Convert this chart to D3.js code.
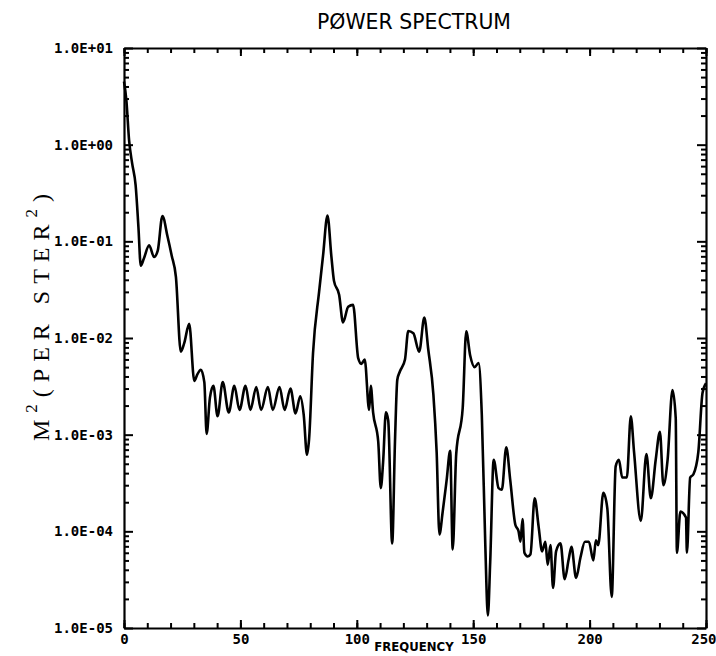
<!DOCTYPE html>
<html>
<head>
<meta charset="utf-8">
<script src="https://cdn.jsdelivr.net/npm/d3@7"></script>
<style>
  html, body { margin: 0; padding: 0; background: #fff; }
  svg { display: block; }
</style>
</head>
<body>
<svg id="chart" width="716" height="656"></svg>
<script>
// Power spectrum samples: frequency and M^2 per steradian^2
const frequency = [
  0, 1, 2.2, 3.5, 5, 6.2, 7.2, 8.5, 10.8, 12.9, 14.5, 16.5, 18.7, 20.5, 22.3, 24.4, 25.9, 28,
  30.2, 31.5, 33, 34.5, 35.5, 36.9, 38.4, 40.2, 42.4, 45, 47.4, 49.6, 52.2, 54.3, 56.8, 58.9,
  61.8, 63.9, 66.8, 69, 71.5, 73.7, 75.7, 77.2, 78.6, 79.5, 81.2, 83.8, 85.5, 87.4, 89.1, 90.2,
  92.4, 94.1, 96.3, 98.4, 100.6, 102, 103.4, 105.3, 106, 107, 109.2, 110.3, 111.3, 112.5, 113.5,
  115.2, 116.4, 117.4, 118.5, 120.7, 122.1, 124.3, 126.8, 129, 130.7, 132.9, 134.3, 135.5, 136.9,
  138.6, 140.1, 141.2, 142.7, 145.5, 147, 148.7, 150.6, 152.3, 153.7, 155.2, 156.3, 157.3, 158.8,
  160.9, 162.3, 164.2, 165.9, 168.1, 169.5, 170.3, 171.2, 172, 173.4, 174.6, 176.4, 178.1, 179.6,
  181, 182, 183.2, 184.3, 185.6, 187.5, 189.3, 191, 192.2, 194.2, 196.1, 198, 199.7, 201.6, 202.7,
  203.7, 205.9, 207.6, 209.5, 211.2, 212.6, 214, 216, 217.7, 219.1, 222, 224.4, 226.3, 228.4,
  230.2, 231.7, 233.5, 235.6, 237, 237.5, 239, 241.4, 241.8, 243.2, 244.6, 246.7, 248.5, 250
];
const power = [
  4.5, 2.9, 1.1, 0.64, 0.38, 0.14, 0.056, 0.066, 0.091, 0.069, 0.08, 0.183, 0.112, 0.071, 0.043, 0.0072, 0.0089, 0.014,
  0.0036, 0.0042, 0.0047, 0.0035, 0.00102, 0.0024, 0.0032, 0.00155, 0.0035, 0.0017, 0.0032, 0.0018, 0.0032, 0.0018, 0.0031, 0.0018,
  0.0031, 0.0018, 0.0031, 0.0018, 0.003, 0.00166, 0.0025, 0.0016, 0.00062, 0.0009, 0.007, 0.030, 0.071, 0.185, 0.069, 0.039,
  0.028, 0.0145, 0.021, 0.022, 0.0062, 0.0054, 0.006, 0.0018, 0.0032, 0.0017, 0.00085, 0.00028, 0.00052, 0.0017, 0.0014,
  0.000075, 0.00085, 0.0037, 0.0045, 0.006, 0.0118, 0.0112, 0.0072, 0.0163, 0.0076, 0.0026, 0.00066, 0.000093, 0.00016,
  0.00034, 0.00068, 0.000065, 0.00063, 0.0019, 0.0117, 0.0066, 0.005, 0.0055, 0.0016, 0.000072, 0.0000135, 0.000048, 0.00055,
  0.00028, 0.00027, 0.00074, 0.00034, 0.000117, 0.0001, 0.000078, 0.000134, 0.00006, 0.000055, 0.000058, 0.00022, 0.000112, 0.000062,
  0.000078, 0.000045, 0.000072, 0.000026, 0.000062, 0.000075, 0.000032, 0.000051, 0.000069, 0.000033, 0.000054, 0.000078, 0.000078, 0.00005, 0.000081,
  0.000072, 0.00025, 0.000174, 0.000021, 0.00047, 0.00055, 0.00036, 0.00036, 0.00155, 0.00066, 0.000128, 0.00063, 0.00022, 0.00055,
  0.00107, 0.0003, 0.00055, 0.0029, 0.00148, 0.00006, 0.00016, 0.000139, 0.00006, 0.00036, 0.00039, 0.00066, 0.0027, 0.0034
];

// Axis ticks and labels
const xTicks = [0, 50, 100, 150, 200, 250];
const xMinorTicks = d3.range(0, 251, 10);
const yTicks = [1e1, 1e0, 1e-1, 1e-2, 1e-3, 1e-4, 1e-5];
const yTickLabels = ["1.0E+01", "1.0E+00", "1.0E-01", "1.0E-02", "1.0E-03", "1.0E-04", "1.0E-05"];

const titleText = "PØWER SPECTRUM";
const xTitle = "FREQUENCY";

const margin = { top: 48, right: 10, bottom: 28, left: 124 };
const W = 716, H = 656;
const innerW = W - margin.left - margin.right;
const innerH = H - margin.top - margin.bottom;

const svg = d3.select("#chart");
const g = svg.append("g").attr("transform", `translate(${margin.left},${margin.top})`);

const x = d3.scaleLinear().domain([0, 250]).range([0, innerW]);
const y = d3.scaleLog().domain([1e-5, 1e1]).range([innerH, 0]);

// minor log ticks 2..9 inside each decade
const yMinor = [];
for (let e = -5; e < 1; e++) for (let m = 2; m <= 9; m++) yMinor.push(m * Math.pow(10, e));

const tickFont = "'DejaVu Sans Mono', monospace";

// left axis: labelled decades, ticks pointing inward
g.append("g")
  .call(d3.axisLeft(y).tickValues(yTicks).tickSize(-9).tickSizeOuter(0).tickPadding(11)
    .tickFormat((d, i) => yTickLabels[i]));
g.append("g").call(d3.axisLeft(y).tickValues(yMinor).tickSize(-5).tickSizeOuter(0).tickFormat(""))
  .select(".domain").remove();

// right axis
g.append("g").attr("transform", `translate(${innerW},0)`)
  .call(d3.axisRight(y).tickValues(yTicks).tickSize(-9).tickSizeOuter(0).tickFormat(""));
g.append("g").attr("transform", `translate(${innerW},0)`)
  .call(d3.axisRight(y).tickValues(yMinor).tickSize(-5).tickSizeOuter(0).tickFormat(""))
  .select(".domain").remove();

// bottom axis
const bottom = g.append("g").attr("transform", `translate(0,${innerH})`)
  .call(d3.axisBottom(x).tickValues(xTicks).tickSize(-8).tickSizeOuter(0).tickPadding(6)
    .tickFormat(d3.format("d")));
g.append("g").attr("transform", `translate(0,${innerH})`)
  .call(d3.axisBottom(x).tickValues(xMinorTicks).tickSize(-5).tickSizeOuter(0).tickFormat(""))
  .select(".domain").remove();
// keep the last label inside the page
bottom.selectAll(".tick text").filter(d => d === 250).attr("text-anchor", "end").attr("dx", 10);

// top axis
g.append("g")
  .call(d3.axisTop(x).tickValues(xTicks).tickSize(-8).tickSizeOuter(0).tickFormat(""));
g.append("g")
  .call(d3.axisTop(x).tickValues(xMinorTicks).tickSize(-5).tickSizeOuter(0).tickFormat(""))
  .select(".domain").remove();

g.selectAll(".domain").attr("stroke", "#000").attr("stroke-width", 2.2);
g.selectAll(".tick line").attr("stroke", "#000").attr("stroke-width", 2);
g.selectAll(".tick text")
  .attr("fill", "#000")
  .style("font-family", tickFont)
  .style("font-size", "14px")
  .style("font-weight", "bold");

// spectrum curve
const line = d3.line()
  .x(d => x(d[0]))
  .y(d => y(d[1]))
  .curve(d3.curveMonotoneX);

g.append("path")
  .datum(frequency.map((f, i) => [f, power[i]]))
  .attr("fill", "none")
  .attr("stroke", "#000")
  .attr("stroke-width", 2.6)
  .attr("stroke-linejoin", "round")
  .attr("d", line);

// title
svg.append("text")
  .attr("x", 414).attr("y", 29)
  .attr("text-anchor", "middle")
  .attr("textLength", 194).attr("lengthAdjust", "spacingAndGlyphs")
  .style("font-family", "'DejaVu Sans', sans-serif")
  .style("font-size", "22px")
  .text(titleText);

// x-axis title
svg.append("text")
  .attr("x", 414).attr("y", 651)
  .attr("text-anchor", "middle")
  .style("font-family", "'DejaVu Sans Condensed', 'DejaVu Sans', sans-serif")
  .style("font-stretch", "condensed")
  .style("font-weight", "bold")
  .style("font-size", "13px")
  .text(xTitle);

// y-axis title with superscripts
const yt = svg.append("text")
  .attr("transform", "translate(49,314) rotate(-90)")
  .attr("text-anchor", "middle")
  .style("font-family", "'Liberation Serif', 'Times New Roman', serif")
  .style("font-size", "24px")
  .style("letter-spacing", "7px");
yt.append("tspan").text("M");
yt.append("tspan").attr("dy", -12).style("font-size", "17px").text("2");
yt.append("tspan").attr("dy", 12).text("(PER STER");
yt.append("tspan").attr("dy", -12).style("font-size", "17px").text("2");
yt.append("tspan").attr("dy", 12).text(")");
</script>
</body>
</html>
